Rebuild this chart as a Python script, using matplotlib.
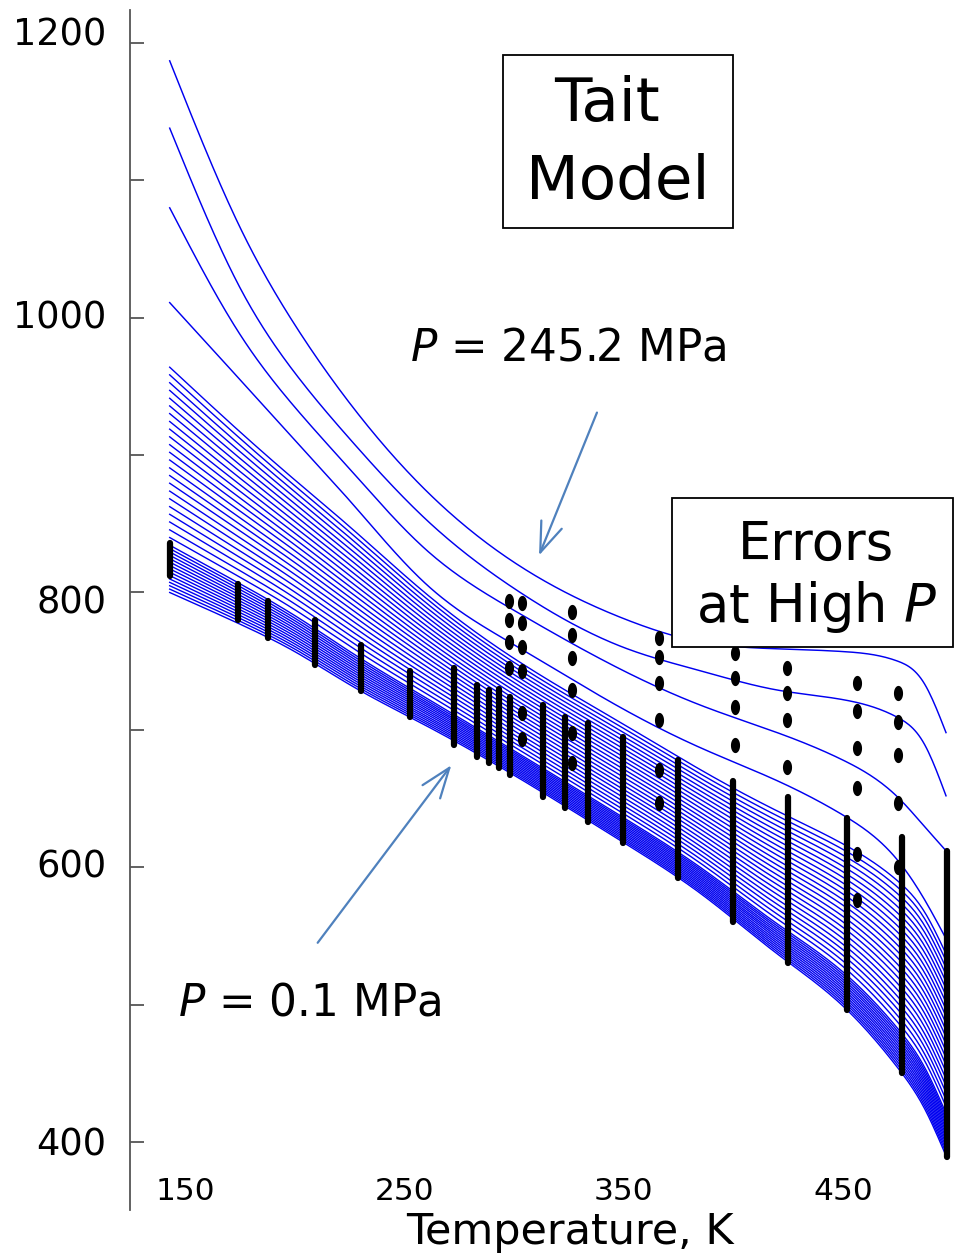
import numpy as np
import matplotlib
matplotlib.use('Agg')
import matplotlib.pyplot as plt
import matplotlib.transforms as mtransforms
from matplotlib.patches import Rectangle
from matplotlib.path import Path

# ---------------- data ----------------
temps = [143, 175, 200, 225, 260, 300, 350, 385, 420, 450, 475, 487, 497]
rho_p01 = [800, 777, 757, 733, 703, 667, 618, 581, 537, 499, 454, 425, 390]      # P = 0.1 MPa
rho_band_top = [964, 917, 882, 848, 799, 752, 704, 671, 641, 617, 590, 568, 537]
rho_c4 = [1011, 955, 911, 867, 806, 762, 715, 687, 663, 638, 605, 577, 548]
rho_c3 = [1080, 988, 935, 890, 831, 787, 743, 718, 698, 678, 651, 630, 612]
rho_c2 = [1138, 1022, 960, 912, 853, 803, 760, 743, 729, 722, 709, 690, 652]
rho_c1 = [1187, 1066, 995, 938, 874, 822, 781, 764, 759, 757, 750, 734, 698]  # P = 245.2 MPa

# relative position of each low/medium-pressure isobar inside the dense band
band_frac = [0.000, 0.015, 0.030, 0.045, 0.060, 0.075, 0.090, 0.105, 0.120, 0.135,
             0.150, 0.165, 0.180, 0.195, 0.210,
             0.244, 0.278, 0.313, 0.347, 0.381, 0.416, 0.450, 0.485, 0.519, 0.553,
             0.588, 0.622, 0.656, 0.691, 0.725, 0.759, 0.794, 0.828, 0.862, 0.897,
             0.931, 0.966, 1.000]

# measured isotherms: dense columns (T, rho_min, rho_max)
col_T = [143.2, 174.2, 187.8, 209.3, 230.3, 252.6, 272.7, 283.2, 288.6, 293.2, 298.2,
         313.2, 323.3, 333.8, 349.7, 374.8, 399.9, 425.0, 451.9, 476.9, 497.5]
col_lo = [812, 780, 767, 747, 728, 709, 689, 680, 676, 672, 667,
          651, 643, 633, 618, 592, 560, 530, 496, 450, 389]
col_hi = [836, 806, 794, 780, 762, 743, 745, 733, 729, 730, 724,
          718, 709, 705, 695, 678, 663, 651, 636, 622, 612]

# isolated high-pressure measurements
dot_T = ([297.8] * 4 + [303.7] * 6 + [326.5] * 6 + [366.0] * 6 + [400.8] * 4 +
         [424.5] * 4 + [456.4] * 6 + [475.1] * 5)
dot_rho = ([794, 780, 764, 745] +
           [792, 778, 760, 743, 712, 693] +
           [786, 769, 752, 729, 698, 676] +
           [767, 753, 734, 707, 671, 647] +
           [756, 738, 717, 689] +
           [745, 727, 707, 673] +
           [734, 714, 687, 658, 610, 576] +
           [727, 706, 682, 647, 600])

xtick_vals = [150, 250, 350, 450]
ytick_vals = [400, 500, 600, 700, 800, 900, 1000, 1100, 1200]
ytick_labels = ['400', '', '600', '', '800', '', '1000', '', '1200']


def smooth_through(x, y, n=400):
    """Natural cubic spline drawn through the read points (only to render a smooth line)."""
    x = np.asarray(x, float)
    y = np.asarray(y, float)
    k = len(x)
    h = np.diff(x)
    A = np.zeros((k, k))
    r = np.zeros(k)
    A[0, 0] = A[-1, -1] = 1.0
    for i in range(1, k - 1):
        A[i, i - 1] = h[i - 1]
        A[i, i] = 2 * (h[i - 1] + h[i])
        A[i, i + 1] = h[i]
        r[i] = 6 * ((y[i + 1] - y[i]) / h[i] - (y[i] - y[i - 1]) / h[i - 1])
    M = np.linalg.solve(A, r)
    xs = np.linspace(x[0], x[-1], n)
    idx = np.clip(np.searchsorted(x, xs) - 1, 0, k - 2)
    x0, x1 = x[idx], x[idx + 1]
    hh = h[idx]
    ys = (M[idx] * (x1 - xs) ** 3 / (6 * hh) + M[idx + 1] * (xs - x0) ** 3 / (6 * hh)
          + (y[idx] / hh - M[idx] * hh / 6) * (x1 - xs)
          + (y[idx + 1] / hh - M[idx + 1] * hh / 6) * (xs - x0))
    return xs, ys


# ---------------- figure ----------------
W, H = 955, 1255
fig = plt.figure(figsize=(W / 100, H / 100), dpi=100)
ax = fig.add_axes([130 / W, 1 - 1210 / H, 1 - 130 / W, 1200 / H])
ax.set_xlim(124.9, 501.1)
ax.set_ylim(350.5, 1224)

blue = '#0000f0'
tb, yb = smooth_through(temps, rho_p01)
_, yt = smooth_through(temps, rho_band_top)
for f in band_frac:
    ax.plot(tb, yb + f * (yt - yb), color=blue, lw=1.0, zorder=2)
for c in (rho_c4, rho_c3, rho_c2, rho_c1):
    xs, ys = smooth_through(temps, c)
    ax.plot(xs, ys, color=blue, lw=1.05, zorder=2)

ax.vlines(col_T, col_lo, col_hi, colors='black', lw=4.5, capstyle='round', zorder=4)
th = np.linspace(0, 2 * np.pi, 40)
ell = Path(np.column_stack([0.6 * np.cos(th), np.sin(th)]))
ax.scatter(dot_T, dot_rho, marker=ell, s=120, color='black', zorder=4, linewidths=0)

for s in ('top', 'right', 'bottom'):
    ax.spines[s].set_visible(False)
ax.spines['left'].set_color('#555555')
ax.spines['left'].set_linewidth(1.3)

ax.set_yticks(ytick_vals)
ax.set_yticklabels(ytick_labels)
ax.tick_params(axis='y', direction='in', length=10, width=1.3, color='#555555',
               labelsize=26.5, pad=17)
# small vertical offsets of the labels as they sit in the original
label_shift_px = {'1200': 12, '1000': 4, '800': -7, '600': 4, '400': 1}
for lab in ax.get_yticklabels():
    dy = label_shift_px.get(lab.get_text(), 0)
    if dy:
        lab.set_transform(lab.get_transform() +
                          mtransforms.ScaledTranslation(0, dy / 100, fig.dpi_scale_trans))

ax.set_xticks(xtick_vals)
ax.set_xticklabels([str(v) for v in xtick_vals])
ax.tick_params(axis='x', length=0, labelsize=22.5, pad=-24)


def fx(x):
    return x / W


def fy(y):
    return 1 - y / H


fig.text(fx(570), fy(1232), 'Temperature, K', fontsize=31, ha='center', va='center')

# boxes
fig.add_artist(Rectangle((fx(503), fy(228)), 230 / W, 173 / H, transform=fig.transFigure,
                         facecolor='white', edgecolor='black', lw=1.3, zorder=10))
fig.text(fx(607), fy(105), 'Tait', fontsize=44, ha='center', va='center', zorder=11)
fig.text(fx(618), fy(183), 'Model', fontsize=44, ha='center', va='center', zorder=11)

fig.add_artist(Rectangle((fx(672), fy(647)), 281 / W, 149 / H, transform=fig.transFigure,
                         facecolor='white', edgecolor='black', lw=1.3, zorder=10))
fig.text(fx(816), fy(545), 'Errors', fontsize=38, ha='center', va='center', zorder=11)
fig.text(fx(817), fy(607), r'at High $\mathit{P}$', fontsize=38, ha='center', va='center', zorder=11)

# annotations
fig.text(fx(568), fy(348), r'$\mathit{P}$ = 245.2 MPa', fontsize=31.5, ha='center', va='center')
fig.text(fx(310), fy(1003), r'$\mathit{P}$ = 0.1 MPa', fontsize=31.5, ha='center', va='center')

acol = '#4f81bd'
astyle = '->, head_length=0.6, head_width=0.22'
ax.annotate('', xy=(fx(538), fy(558)), xytext=(fx(598), fy(410)), xycoords='figure fraction',
            textcoords='figure fraction',
            arrowprops=dict(arrowstyle=astyle, color=acol, lw=1.6, mutation_scale=36))
ax.annotate('', xy=(fx(453), fy(763)), xytext=(fx(316), fy(945)), xycoords='figure fraction',
            textcoords='figure fraction',
            arrowprops=dict(arrowstyle=astyle, color=acol, lw=1.6, mutation_scale=36))

fig.savefig('out.png', dpi=100)
